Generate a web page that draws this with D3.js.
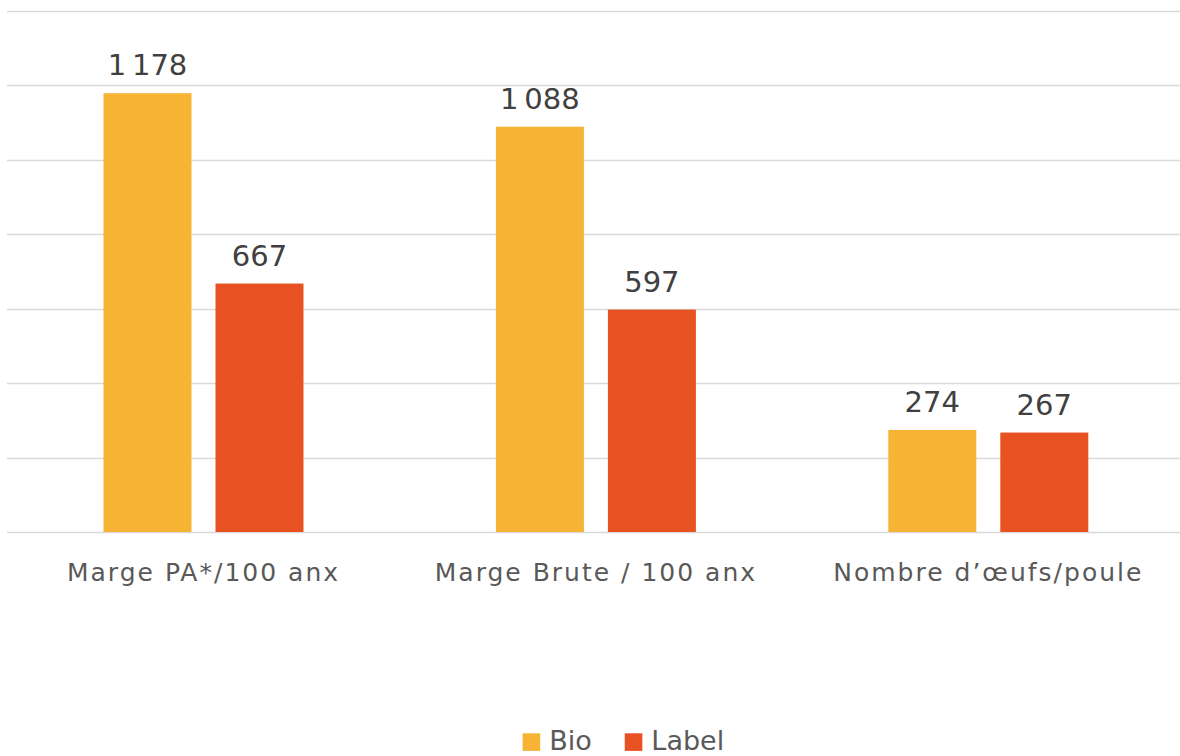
<!DOCTYPE html>
<html>
<head>
<meta charset="utf-8">
<script src="https://cdn.jsdelivr.net/npm/d3@7"></script>
<style>
	body { margin: 0; background: #ffffff; }
	svg { display: block; font-family: "DejaVu Sans", sans-serif; }
</style>
</head>
<body>
<svg id="chart"></svg>
<script>
// data
const categories = ["Marge PA*/100 anx", "Marge Brute / 100 anx", "Nombre d\u2019\u0153ufs/poule"];
const seriesNames = ["Bio", "Label"];
const bioValues = [1178, 1088, 274];
const labelValues = [667, 597, 267];
const yTicks = [0, 200, 400, 600, 800, 1000, 1200, 1400];
const seriesColors = ["#F7B334", "#E85222"];

const width = 1180;
const height = 756;

const svg = d3.select("#chart").attr("width", width).attr("height", height);

// french style thousands: narrow space
const frLocale = d3.formatLocale({ decimal: ",", thousands: "\u202F", grouping: [3], currency: ["", " €"] });
const fmt = frLocale.format(",d");

const y = d3.scaleLinear().domain([0, 1400]).range([532, 10.5]);

const x0 = d3.scaleBand().domain(categories).range([7.3, 1184.5]).padding(0);
const x1 = d3
	.scaleBand()
	.domain(seriesNames)
	.range([0, x0.bandwidth()])
	.paddingInner(24 / 112)
	.paddingOuter(0.859);

// gridlines
svg
	.append("g")
	.attr("class", "grid")
	.selectAll("line")
	.data(yTicks)
	.enter()
	.append("line")
	.attr("x1", 7)
	.attr("x2", width)
	.attr("y1", (d) => Math.round(y(d)) + 0.5)
	.attr("y2", (d) => Math.round(y(d)) + 0.5)
	.attr("stroke", "#D9D9D9")
	.attr("stroke-width", 1.5);

// reshape into one row per bar
const rows = [];
categories.forEach((c, i) => {
	rows.push({ cat: c, series: "Bio", value: bioValues[i] });
	rows.push({ cat: c, series: "Label", value: labelValues[i] });
});
const color = d3.scaleOrdinal().domain(seriesNames).range(seriesColors);

svg
	.append("g")
	.selectAll("rect")
	.data(rows)
	.enter()
	.append("rect")
	.attr("x", (d) => x0(d.cat) + x1(d.series))
	.attr("width", x1.bandwidth())
	.attr("y", (d) => y(d.value))
	.attr("height", (d) => y(0) - y(d.value))
	.attr("fill", (d) => color(d.series));

// value labels above bars
svg
	.append("g")
	.selectAll("text")
	.data(rows)
	.enter()
	.append("text")
	.attr("x", (d) => x0(d.cat) + x1(d.series) + x1.bandwidth() / 2)
	.attr("y", (d) => y(d.value) - 18)
	.attr("text-anchor", "middle")
	.attr("font-size", 29)
	.attr("fill", "#404040")
	.text((d) => fmt(d.value));

// category axis labels (no axis line other than the 0 gridline)
const xAxis = svg
	.append("g")
	.attr("transform", `translate(0, ${y(0)})`)
	.call(d3.axisBottom(x0).tickSize(0).tickPadding(0));
xAxis.select(".domain").remove();
xAxis
	.selectAll("text")
	.attr("dy", null)
	.attr("y", 49)
	.attr("font-family", "DejaVu Sans, sans-serif")
	.attr("font-size", 25)
	.attr("letter-spacing", 2)
	.attr("fill", "#595959");

// legend, centred around the middle of the picture
const legend = svg.append("g").attr("class", "legend");
const items = legend
	.selectAll("g")
	.data(seriesNames)
	.enter()
	.append("g");
items
	.append("rect")
	.attr("width", 17.6)
	.attr("height", 17.6)
	.attr("y", 733.3)
	.attr("fill", (d) => color(d));
items
	.append("text")
	.attr("x", 26.6)
	.attr("y", 749.5)
	.attr("font-size", 27)
	.attr("fill", "#595959")
	.text((d) => d);

let offset = 0;
const positions = [];
items.each(function () {
	positions.push(offset);
	const w = d3.select(this).select("text").node().getComputedTextLength();
	offset += 26.6 + w + 33;
});
const total = offset - 33;
const start = 623.4 - total / 2;
items.attr("transform", (d, i) => `translate(${start + positions[i]}, 0)`);
</script>
</body>
</html>
